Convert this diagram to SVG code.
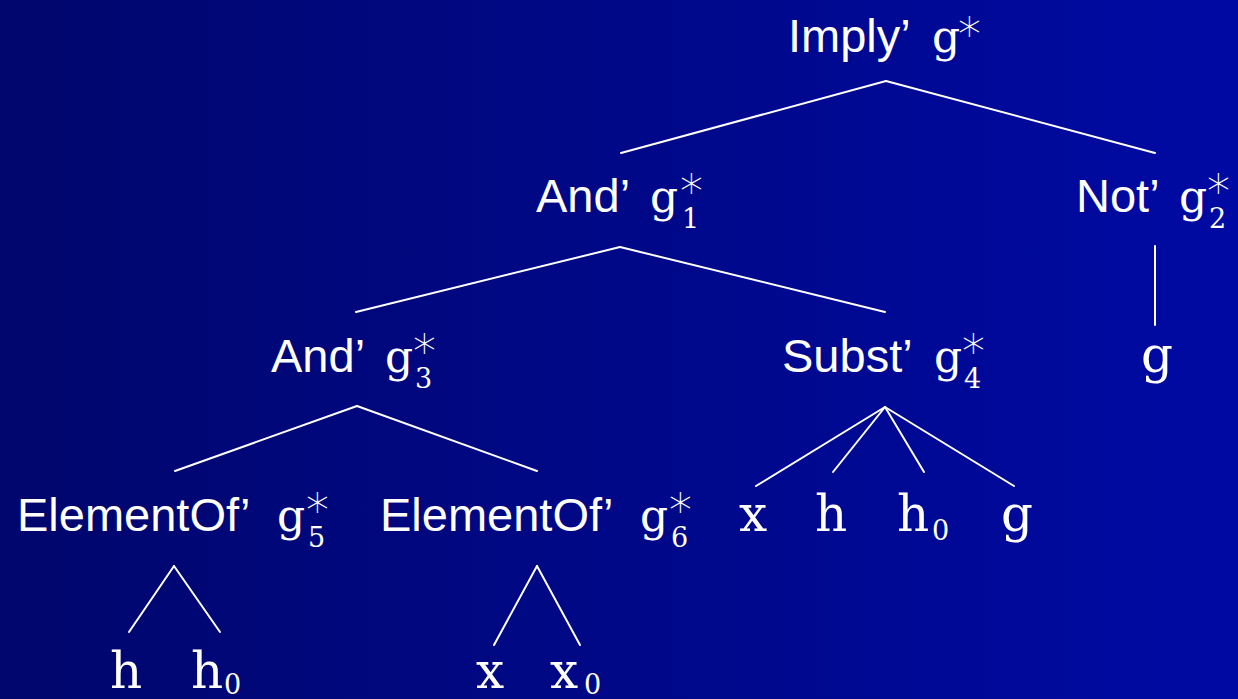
<svg xmlns="http://www.w3.org/2000/svg" width="1238" height="699" viewBox="0 0 1238 699">
<defs>
<linearGradient id="bg" x1="0" y1="0" x2="1" y2="0">
<stop offset="0" stop-color="#00066c"/>
<stop offset="1" stop-color="#000aa3"/>
</linearGradient>
</defs>
<style>
.lbl{font-family:"Liberation Sans",Arial,sans-serif;font-size:47px;fill:#fff}
.mg{font-family:"DejaVu Serif",serif;font-size:44px;fill:#fff}
.leaf{font-family:"DejaVu Serif",serif;font-size:50px;fill:#fff}
.sub{font-family:"DejaVu Serif",serif;font-size:27px;fill:#fff}
.star{font-family:"DejaVu Sans",sans-serif;font-size:46px;font-weight:200;fill:#fff}
.edge{stroke:#fff;stroke-width:2;fill:none;stroke-linecap:round}
</style>
<rect width="1238" height="699" fill="url(#bg)"/>
<g id="connectors">
<line class="edge" x1="886" y1="81" x2="621" y2="153"/>
<line class="edge" x1="886" y1="81" x2="1155" y2="153"/>
<line class="edge" x1="620" y1="247" x2="356" y2="312"/>
<line class="edge" x1="620" y1="247" x2="885" y2="312"/>
<line class="edge" x1="1155" y1="246" x2="1155" y2="325"/>
<line class="edge" x1="357" y1="406" x2="175" y2="471"/>
<line class="edge" x1="357" y1="406" x2="537" y2="471"/>
<line class="edge" x1="885" y1="407" x2="756" y2="486"/>
<line class="edge" x1="885" y1="407" x2="833" y2="472"/>
<line class="edge" x1="885" y1="407" x2="924" y2="472"/>
<line class="edge" x1="885" y1="407" x2="1014" y2="486"/>
<line class="edge" x1="174" y1="566" x2="129" y2="632"/>
<line class="edge" x1="174" y1="566" x2="220" y2="632"/>
<line class="edge" x1="537" y1="566" x2="494" y2="645"/>
<line class="edge" x1="537" y1="566" x2="580" y2="645"/>
</g>
<g id="imply">
<text class="lbl" x="788" y="52">Imply’</text>
<text class="mg" x="932" y="52">g</text>
<text class="star" x="955" y="41">∗</text>
</g>
<g id="and1">
<text class="lbl" x="536" y="212">And’</text>
<text class="mg" x="650" y="212">g</text>
<text class="sub" x="682" y="228">1</text>
<text class="star" x="677" y="198">∗</text>
</g>
<g id="not2">
<text class="lbl" x="1076" y="212">Not’</text>
<text class="mg" x="1179" y="212">g</text>
<text class="sub" x="1209" y="228">2</text>
<text class="star" x="1204" y="198">∗</text>
</g>
<g id="and3">
<text class="lbl" x="271" y="372">And’</text>
<text class="mg" x="385" y="372">g</text>
<text class="sub" x="415" y="388">3</text>
<text class="star" x="410" y="358">∗</text>
</g>
<g id="subst4">
<text class="lbl" x="782" y="372">Subst’</text>
<text class="mg" x="934" y="372">g</text>
<text class="sub" x="964" y="388">4</text>
<text class="star" x="959" y="358">∗</text>
</g>
<g id="leaf-g-not">
<text class="leaf" x="1141" y="372">g</text>
</g>
<g id="elem5">
<text class="lbl" x="17" y="531">ElementOf’</text>
<text class="mg" x="277" y="531">g</text>
<text class="sub" x="308" y="547">5</text>
<text class="star" x="303" y="517">∗</text>
</g>
<g id="elem6">
<text class="lbl" x="380" y="531">ElementOf’</text>
<text class="mg" x="640" y="531">g</text>
<text class="sub" x="671" y="547">6</text>
<text class="star" x="666" y="517">∗</text>
</g>
<g id="leaf-x1"><text class="leaf" x="739" y="531">x</text></g>
<g id="leaf-h1"><text class="leaf" x="815" y="531">h</text></g>
<g id="leaf-h01"><text class="leaf" x="897" y="531">h</text><text class="sub" x="932" y="540">0</text></g>
<g id="leaf-g1"><text class="leaf" x="1001" y="531">g</text></g>
<g id="leaf-h2"><text class="leaf" x="110" y="688">h</text></g>
<g id="leaf-h02"><text class="leaf" x="191" y="688">h</text><text class="sub" x="224" y="694">0</text></g>
<g id="leaf-x2"><text class="leaf" x="476" y="688">x</text></g>
<g id="leaf-x02"><text class="leaf" x="550" y="688">x</text><text class="sub" x="584" y="694">0</text></g>
</svg>
